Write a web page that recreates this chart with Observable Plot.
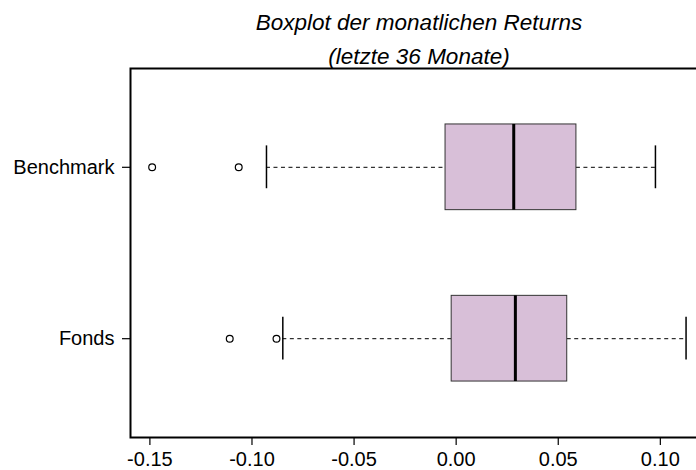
<!DOCTYPE html>
<html>
<head>
<meta charset="utf-8">
<script src="https://cdn.jsdelivr.net/npm/d3@7"></script>
<script src="https://cdn.jsdelivr.net/npm/@observablehq/plot@0.6"></script>
<style>
  html, body { margin: 0; padding: 0; background: #fff; overflow: hidden; }
  svg { display: block; }
</style>
</head>
<body>
<div id="chart"></div>
<script>
// ---- data ----
const categories = ["Benchmark", "Fonds"];
const q1 = [-0.0052, -0.0022];
const median = [0.0282, 0.0290];
const q3 = [0.0589, 0.0544];
const whiskerLo = [-0.0929, -0.0849];
const whiskerHi = [0.0976, 0.1126];
const outlierCategory = ["Benchmark", "Benchmark", "Fonds", "Fonds"];
const outlierValue = [-0.1489, -0.1065, -0.1109, -0.0880];
const xTicks = [-0.15, -0.10, -0.05, 0.00, 0.05, 0.10];
const titleLines = ["Boxplot der monatlichen Returns", "(letzte 36 Monate)"];

const boxes = categories.map((c, i) => ({
  cat: c, q1: q1[i], med: median[i], q3: q3[i], lo: whiskerLo[i], hi: whiskerHi[i]
}));
const outliers = outlierValue.map((v, i) => ({cat: outlierCategory[i], v}));

const font = "'Liberation Sans', Arial, Helvetica, sans-serif";
const bandwidthApprox = 85.7;

const chart = Plot.plot({
  width: 696,
  height: 470,
  marginLeft: 130,
  marginRight: -11,
  marginTop: 68,
  marginBottom: 33,
  style: {fontFamily: font, background: "#fff", color: "black"},
  x: {domain: [-0.1595, 0.1231]},
  y: {type: "band", domain: categories, paddingInner: 0.5, paddingOuter: 0.3265, align: 0.5, round: false},
  marks: [
    // whiskers
    Plot.ruleY(boxes, {y: "cat", x1: "lo", x2: "q1", stroke: "black", strokeWidth: 1, strokeDasharray: "4,3.5"}),
    Plot.ruleY(boxes, {y: "cat", x1: "q3", x2: "hi", stroke: "black", strokeWidth: 1, strokeDasharray: "4,3.5"}),
    // staples
    Plot.tickX(boxes, {x: "lo", y: "cat", stroke: "black", strokeWidth: 1.5, insetTop: bandwidthApprox / 4, insetBottom: bandwidthApprox / 4}),
    Plot.tickX(boxes, {x: "hi", y: "cat", stroke: "black", strokeWidth: 1.5, insetTop: bandwidthApprox / 4, insetBottom: bandwidthApprox / 4}),
    // boxes
    Plot.barX(boxes, {y: "cat", x1: "q1", x2: "q3", fill: "#D8BFD8", stroke: "#333", strokeWidth: 1}),
    // median
    Plot.tickX(boxes, {x: "med", y: "cat", stroke: "black", strokeWidth: 3}),
    // outliers
    Plot.dot(outliers, {x: "v", y: "cat", r: 3.4, stroke: "black", strokeWidth: 1.2, fill: "none"}),
    // axes
    Plot.axisX({ticks: xTicks, tickFormat: d => d.toFixed(2), tickSize: 8, tickPadding: 6, fontSize: 20, label: null, stroke: "black", strokeWidth: 1.2}),
    Plot.axisY({tickSize: 8, tickPadding: 8, fontSize: 20, label: null, stroke: "black", strokeWidth: 1.2}),
    Plot.frame({stroke: "black", strokeWidth: 2}),
    // title
    Plot.text([titleLines[0]], {text: d => d, frameAnchor: "top", dy: -39, lineAnchor: "bottom", fontSize: 22.5, fontStyle: "italic", fill: "black"}),
    Plot.text([titleLines[1]], {text: d => d, frameAnchor: "top", dy: -5, lineAnchor: "bottom", fontSize: 22.5, fontStyle: "italic", fill: "black"})
  ]
});
document.getElementById("chart").appendChild(chart);
</script>
</body>
</html>
